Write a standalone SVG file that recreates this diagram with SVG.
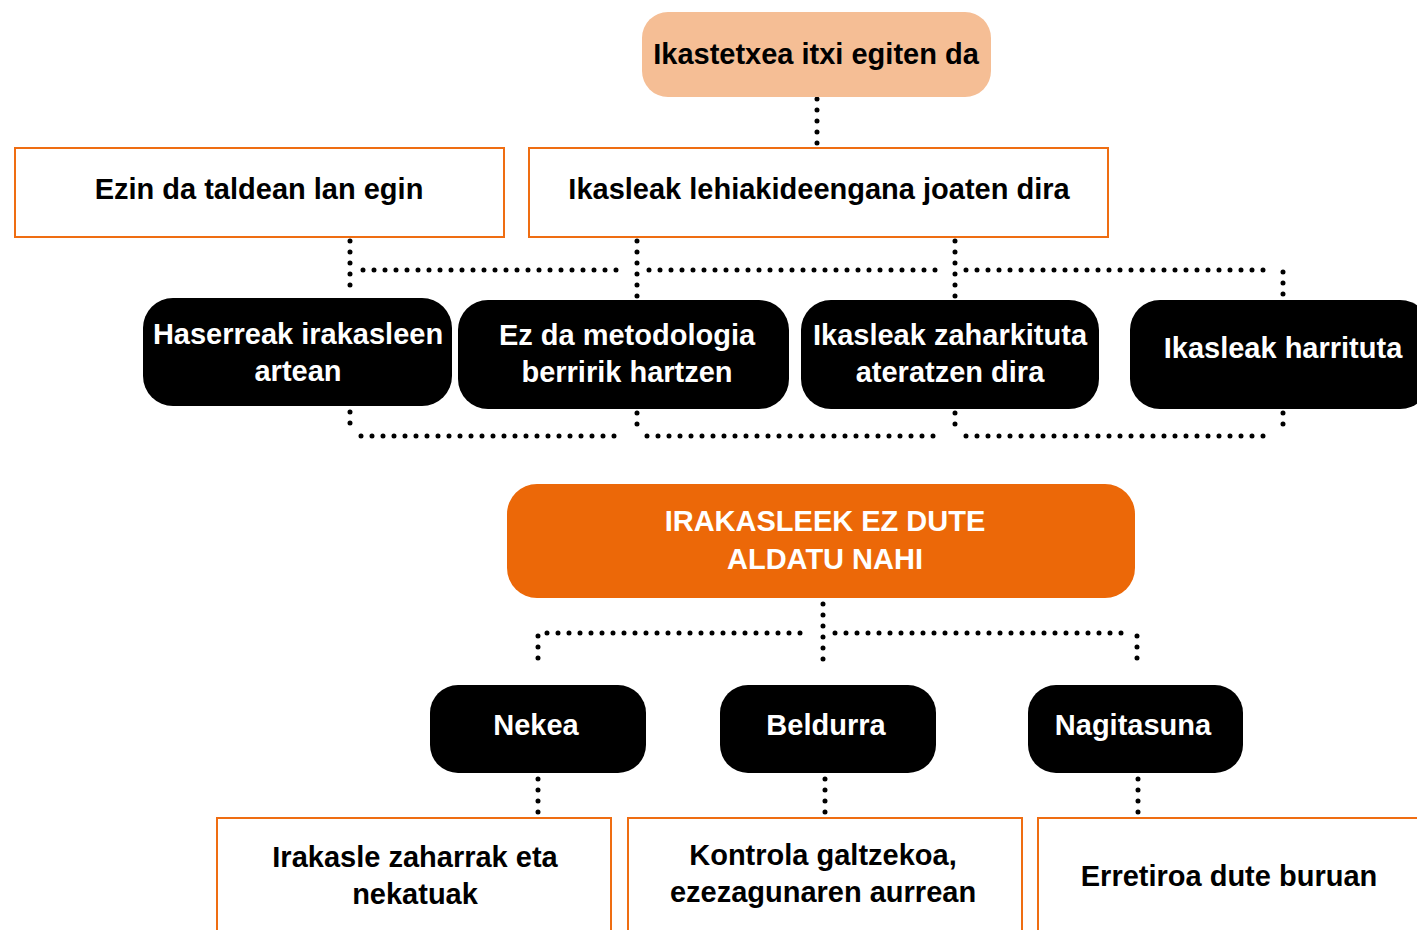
<svg xmlns="http://www.w3.org/2000/svg" width="1417" height="930" viewBox="0 0 1417 930">
<style>
.t{font-family:"Liberation Sans",Arial,Helvetica,sans-serif;font-weight:bold;font-size:29px;text-anchor:middle}
.dk{fill:#000}
.wt{fill:#fff}
.blk{fill:#000;stroke:none}
.box{fill:#fff;stroke:#EF6D12;stroke-width:2}
.dot{fill:none;stroke:#000;stroke-width:5;stroke-linecap:round;stroke-dasharray:0 11}
</style>
<rect width="1417" height="930" fill="#fff"/>
<g id="connectors">
<circle cx="817" cy="88" r="2.6" fill="#7A3A12"/>
<path class="dot" d="M817 99 V146"/>
<path class="dot" d="M350 241 V296"/>
<path class="dot" d="M637 241 V298"/>
<path class="dot" d="M955 241 V298"/>
<path class="dot" d="M1283 272 V298"/>
<path class="dot" d="M363 270 H627"/>
<path class="dot" d="M649 270 H940"/>
<path class="dot" d="M966 270 H1273"/>
<path class="dot" d="M350 412 V434"/>
<path class="dot" d="M637 413 V434"/>
<path class="dot" d="M955 413 V434"/>
<path class="dot" d="M1283 413 V434"/>
<path class="dot" d="M361 436 H625"/>
<path class="dot" d="M647 436 H938"/>
<path class="dot" d="M966 436 H1273"/>
<path class="dot" d="M823 604 V668"/>
<path class="dot" d="M538 636 V668"/>
<path class="dot" d="M1137 636 V668"/>
<path class="dot" d="M547 633 H811"/>
<path class="dot" d="M835 633 H1126"/>
<path class="dot" d="M538 779 V815"/>
<path class="dot" d="M825 779 V815"/>
<path class="dot" d="M1138 779 V815"/>
</g>
<g id="n-top">
<rect x="642" y="12" width="349" height="85" rx="26" fill="#F5BE95"/>
<text class="t dk" x="816" y="64">Ikastetxea itxi egiten da</text>
</g>
<g id="n-ezin">
<rect class="box" x="15" y="148" width="489" height="89"/>
<text class="t dk" x="259" y="199">Ezin da taldean lan egin</text>
</g>
<g id="n-ikasleak">
<rect class="box" x="529" y="148" width="579" height="89"/>
<text class="t dk" x="819" y="199">Ikasleak lehiakideengana joaten dira</text>
</g>
<g id="n-haserreak">
<rect class="blk" x="143" y="298" width="309" height="108" rx="30"/>
<text class="t wt" x="298" y="344">Haserreak irakasleen</text>
<text class="t wt" x="298" y="381">artean</text>
</g>
<g id="n-metodologia">
<rect class="blk" x="458" y="300" width="331" height="109" rx="30"/>
<text class="t wt" x="627" y="345">Ez da metodologia</text>
<text class="t wt" x="627" y="382">berririk hartzen</text>
</g>
<g id="n-zaharkituta">
<rect class="blk" x="801" y="300" width="298" height="109" rx="30"/>
<text class="t wt" x="950" y="345">Ikasleak zaharkituta</text>
<text class="t wt" x="950" y="382">ateratzen dira</text>
</g>
<g id="n-harrituta">
<rect class="blk" x="1130" y="300" width="300" height="109" rx="30"/>
<text class="t wt" x="1283" y="358">Ikasleak harrituta</text>
</g>
<g id="n-main">
<rect x="507" y="484" width="628" height="114" rx="30" fill="#EC6808"/>
<text class="t wt" x="825" y="531">IRAKASLEEK EZ DUTE</text>
<text class="t wt" x="825" y="569">ALDATU NAHI</text>
</g>
<g id="n-nekea">
<rect class="blk" x="430" y="685" width="216" height="88" rx="28"/>
<text class="t wt" x="536" y="735">Nekea</text>
</g>
<g id="n-beldurra">
<rect class="blk" x="720" y="685" width="216" height="88" rx="28"/>
<text class="t wt" x="826" y="735">Beldurra</text>
</g>
<g id="n-nagitasuna">
<rect class="blk" x="1028" y="685" width="215" height="88" rx="28"/>
<text class="t wt" x="1133" y="735">Nagitasuna</text>
</g>
<g id="n-irakasle">
<rect class="box" x="217" y="818" width="394" height="130"/>
<text class="t dk" x="415" y="867">Irakasle zaharrak eta</text>
<text class="t dk" x="415" y="904">nekatuak</text>
</g>
<g id="n-kontrola">
<rect class="box" x="628" y="818" width="394" height="130"/>
<text class="t dk" x="823" y="865">Kontrola galtzekoa,</text>
<text class="t dk" x="823" y="902">ezezagunaren aurrean</text>
</g>
<g id="n-erretiroa">
<rect class="box" x="1038" y="818" width="400" height="130"/>
<text class="t dk" x="1229" y="886">Erretiroa dute buruan</text>
</g>
</svg>
